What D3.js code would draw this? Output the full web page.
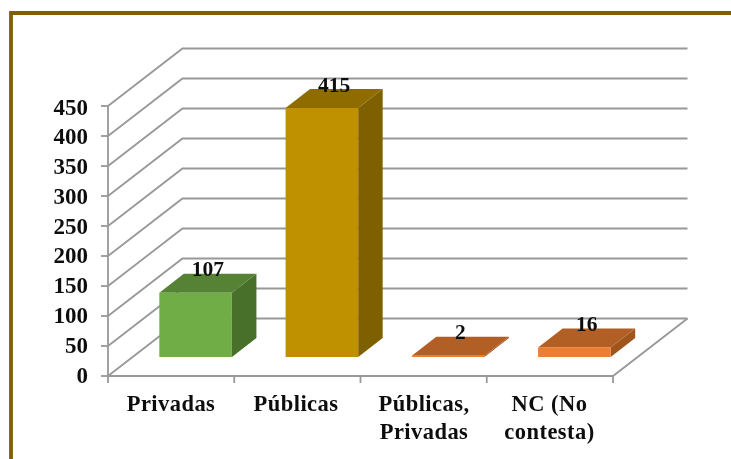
<!DOCTYPE html>
<html><head><meta charset="utf-8">
<script src="https://d3js.org/d3.v7.min.js"></script>
<style>html,body{margin:0;padding:0;background:#fff;overflow:hidden}
svg{display:block}text{font-family:"Liberation Serif";font-weight:bold;fill:#111}</style>
</head><body><svg id="c" width="731" height="459"></svg>
<script>
const categories = ["Privadas","Públicas","Públicas,|Privadas","NC (No|contesta)"];
const values = [107,415,2,16];
const tickValues = [0,50,100,150,200,250,300,350,400,450];
const frontColors = ["#70ad47","#bf9000","#ed7d31","#ed7d31"];
const topColors = ["#548235","#8f6c00","#b25e25","#b25e25"];
const sideColors = ["#48702b","#7f6000","#a0541f","#a0541f"];

const svg = d3.select("#c");
const f = svg.append("defs").append("filter").attr("id","soft");
f.append("feGaussianBlur").attr("stdDeviation",0.5);
const g = svg.append("g").attr("filter","url(#soft)");

const x0=108, x1=613, yB=376, yT=106, depthX=74.5, depthY=57.5;
const y = d3.scaleLinear().domain([0,450]).range([yB,yT]);
const labelY = d3.scaleLinear().domain([0,450]).range([382.5,114.5]);
const x = d3.scaleBand().domain(categories).range([x0,x1]).paddingInner(0).paddingOuter(0);
const barW = x.bandwidth()*0.575, bdx=24.5, bdy=19;

g.append("path").attr("d","M11 459V13H731").attr("fill","none").attr("stroke","#7f6000").attr("stroke-width",3.8);

const grid="#989898", gw=1.8;
tickValues.forEach(v=>{
  g.append("path").attr("fill","none").attr("stroke",grid).attr("stroke-width",gw)
   .attr("d",`M${x0} ${y(v)}L${x0+depthX} ${y(v)-depthY}H${x1+depthX}`);
  g.append("line").attr("x1",x0-7).attr("x2",x0).attr("y1",y(v)).attr("y2",y(v)).attr("stroke",grid).attr("stroke-width",gw);
});
g.append("path").attr("fill","none").attr("stroke",grid).attr("stroke-width",gw)
 .attr("d",`M${x0} ${yT}V${yB}H${x1}L${x1+depthX} ${yB-depthY}`);
[...categories.map(c=>x(c)),x1].forEach(t=>{
  g.append("line").attr("x1",t).attr("x2",t).attr("y1",yB).attr("y2",yB+7).attr("stroke",grid).attr("stroke-width",gw);
});

categories.forEach((c,i)=>{
  const l=x(c)+bdx+(x.bandwidth()-barW)/2, r=l+barW, b=yB-bdy, h=yB-y(values[i]), t=b-h;
  g.append("path").attr("fill",sideColors[i]).attr("d",`M${r} ${b}L${r+bdx} ${b-bdy}V${t-bdy}L${r} ${t}Z`);
  g.append("path").attr("fill",topColors[i]).attr("d",`M${l} ${t}L${l+bdx} ${t-bdy}H${r+bdx}L${r} ${t}Z`);
  g.append("rect").attr("x",l).attr("y",t).attr("width",barW).attr("height",h).attr("fill",frontColors[i]);
  g.append("text").attr("x",(l+r)/2+bdx/2).attr("y",t-bdy+2.5).attr("text-anchor","middle").attr("font-size",21.5).text(values[i]);
});

tickValues.forEach(v=>{
  g.append("text").attr("x",88).attr("y",labelY(v)).attr("text-anchor","end").attr("font-size",23).text(v);
});
const labelCenters = [171,296,424,549.5];
categories.forEach((c,i)=>{
  c.split("|").forEach((s,j)=>{
    g.append("text").attr("x",labelCenters[i]).attr("y",411+j*28).attr("text-anchor","middle").attr("font-size",22.5).attr("letter-spacing",0.45).text(s);
  });
});
</script></body></html>
